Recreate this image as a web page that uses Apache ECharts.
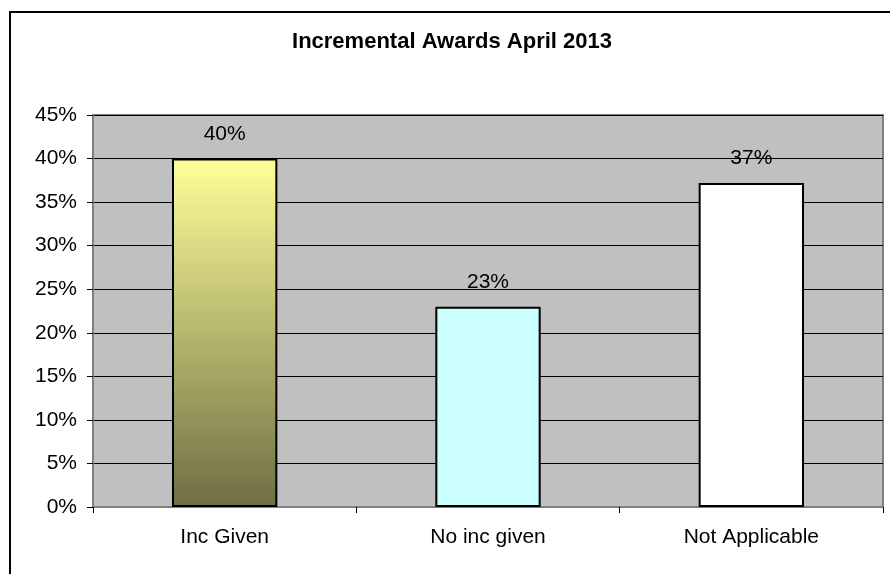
<!DOCTYPE html>
<html>
<head>
<meta charset="utf-8">
<script src="https://cdn.jsdelivr.net/npm/echarts@6/dist/echarts.min.js"></script>
<style>
  html, body { margin: 0; padding: 0; background: #ffffff; }
  #chart { width: 890px; height: 574px; }
</style>
</head>
<body>
<div id="chart"></div>
<script>
// Share of staff by incremental award outcome, April 2013 (percent)
const categories = ['Inc Given', 'No inc given', 'Not Applicable'];
const shares = [40, 23, 37.2];
const yTicks = { min: 0, max: 45, step: 5 };

const FONT = '"Liberation Sans", Arial, sans-serif';

const barColors = [
  new echarts.graphic.LinearGradient(0, 0, 0, 1, [
    { offset: 0, color: '#ffff99' },
    { offset: 1, color: '#6e6e44' }
  ]),
  '#ccffff',
  '#ffffff'
];

const chart = echarts.init(document.getElementById('chart'), null, { renderer: 'canvas' });

chart.setOption({
  backgroundColor: '#ffffff',
  animation: false,
  title: {
    text: 'Incremental Awards April 2013',
    left: 452,
    top: 31,
    padding: 0,
    textAlign: 'center',
    textStyle: { fontFamily: FONT, fontSize: 22, fontWeight: 'bold', color: '#000000' }
  },
  graphic: [{
    type: 'rect',
    shape: { x: 10, y: 12, width: 960, height: 640 },
    style: { fill: null, stroke: '#000000', lineWidth: 2 },
    silent: true
  }],
  grid: {
    left: 93, right: 7, top: 115, bottom: 67,
    show: true,
    backgroundColor: '#c0c0c0',
    borderColor: '#808080',
    borderWidth: 2
  },
  xAxis: {
    type: 'category',
    data: categories,
    axisLine: { lineStyle: { color: '#808080', width: 2 } },
    axisTick: { show: true, alignWithLabel: false, length: 6, lineStyle: { color: '#000000' } },
    axisLabel: { margin: 20, color: '#000000', fontFamily: FONT, fontSize: 21 }
  },
  yAxis: {
    type: 'value',
    min: yTicks.min,
    max: yTicks.max,
    interval: yTicks.step,
    axisLine: { show: true, lineStyle: { color: '#808080', width: 2 } },
    axisTick: { show: true, length: 6, lineStyle: { color: '#000000' } },
    axisLabel: { margin: 16, color: '#000000', fontFamily: FONT, fontSize: 21, formatter: '{value}%' },
    splitLine: { show: true, lineStyle: { color: '#000000', width: 1 } }
  },
  series: [{
    type: 'bar',
    barWidth: '40%',
    data: shares.map((v, i) => ({
      value: v,
      itemStyle: { color: barColors[i], borderColor: '#000000', borderWidth: 2 }
    })),
    label: {
      show: true,
      position: 'top',
      distance: 14,
      color: '#000000',
      fontFamily: FONT,
      fontSize: 21,
      formatter: p => Math.round(p.value) + '%'
    }
  }]
});
</script>
</body>
</html>
